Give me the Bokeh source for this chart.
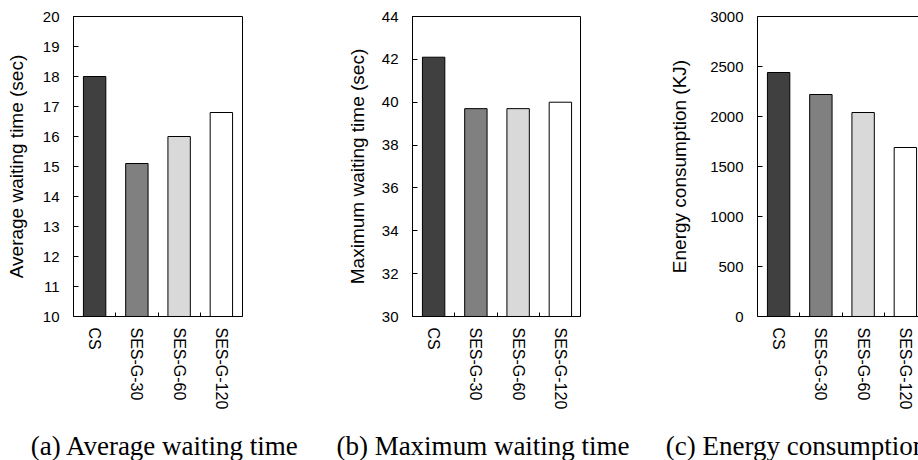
from bokeh.plotting import figure
from bokeh.models import FixedTicker, LinearAxis, Range1d
from bokeh.layouts import row, column
from bokeh.core.properties import value
from bokeh.embed import file_html
from bokeh.resources import INLINE

categories = ["CS", "SES-G-30", "SES-G-60", "SES-G-120"]
avg_wait = [18.0, 15.1, 16.0, 16.8]
max_wait = [42.1, 39.7, 39.7, 40.0]
energy = [2440, 2220, 2040, 1690]
bar_colors = ["#404040", "#808080", "#d9d9d9", "#ffffff"]

avg_ticks = list(range(10, 21, 1))
max_ticks = list(range(30, 45, 2))
energy_ticks = list(range(0, 3001, 500))

captions = ["(a) Average waiting time", "(b) Maximum waiting time", "(c) Energy consumption"]

SANS = "Liberation Sans"
SERIF = "Liberation Serif"
CAT_W = 42.25
FRAME_TOP = 16
FRAME_H = 301
MAIN_H = 412
CAP_H = 48


def panel(values, ticks, ylabel, width, bl, br, frame_w, label_standoff, clip_right=False):
    n = len(categories)
    xs = [i + 0.5 for i in range(n)]
    x_end = frame_w / CAT_W
    y0, y1 = ticks[0], ticks[-1]
    p = figure(width=width, height=MAIN_H, output_backend="svg", toolbar_location=None,
               x_range=Range1d(0, x_end), y_range=Range1d(y0, y1),
               min_border_left=bl, min_border_right=br, min_border_top=FRAME_TOP,
               min_border_bottom=MAIN_H - FRAME_TOP - FRAME_H)
    p.grid.visible = False
    p.background_fill_color = "white"
    p.border_fill_color = "white"
    xa = p.below[0]
    ya = p.left[0]
    if clip_right:
        p.outline_line_color = None
        top_ax = LinearAxis(ticker=FixedTicker(ticks=[]), major_label_text_font_size="0px",
                            axis_line_color="black", major_tick_line_color=None,
                            minor_tick_line_color=None, major_tick_out=0, major_tick_in=0,
                            major_label_standoff=0, axis_label_standoff=0)
        p.add_layout(top_ax, "above")
    else:
        p.outline_line_color = "black"
        p.outline_line_width = 1
        p.outline_line_alpha = 1

    p.vbar(x=xs, top=values, bottom=y0, width=0.53, fill_color=bar_colors,
           line_color="black", line_width=1)

    xa.ticker = FixedTicker(ticks=xs, minor_ticks=[1, 2, 3])
    xa.major_label_overrides = {x: c for x, c in zip(xs, categories)}
    xa.major_label_orientation = "vertical"
    xa.major_tick_line_color = None
    xa.major_tick_in = 0
    xa.major_tick_out = 0
    xa.minor_tick_in = 4
    xa.minor_tick_out = 0
    xa.minor_tick_line_color = "black"
    xa.axis_line_color = "black"
    xa.major_label_text_font = SANS
    xa.major_label_text_font_size = "16px"
    xa.major_label_text_color = "black"
    xa.major_label_standoff = 11

    ya.ticker = FixedTicker(ticks=ticks)
    ya.major_tick_in = 5
    ya.major_tick_out = 0
    ya.minor_tick_line_color = None
    ya.axis_line_color = "black"
    ya.major_tick_line_color = "black"
    ya.major_label_text_font = SANS
    ya.major_label_text_font_size = "15px"
    ya.major_label_text_color = "black"
    ya.major_label_standoff = 14
    ya.axis_label = ylabel
    ya.axis_label_text_font = SANS
    ya.axis_label_text_font_size = "19px"
    ya.axis_label_text_font_style = "normal"
    ya.axis_label_text_color = "black"
    ya.axis_label_standoff = label_standoff
    return p


pa = panel(avg_wait, avg_ticks, "Average waiting time (sec)", 308, 73, 66, 169, 13)
pb = panel(max_wait, max_ticks, "Maximum waiting time (sec)", 342, 104, 70, 168, 11)
pc = panel(energy, energy_ticks, "Energy consumption (KJ)", 268, 107, 0, 161, 17, clip_right=True)

# caption strip below the three panels (x in page pixels, y measured up from strip bottom)
cap = figure(width=918, height=CAP_H, output_backend="svg", toolbar_location=None,
             x_range=Range1d(0, 918), y_range=Range1d(0, CAP_H),
             x_axis_type=None, y_axis_type=None,
             min_border_left=0, min_border_right=0, min_border_top=0, min_border_bottom=0)
cap.grid.visible = False
cap.outline_line_color = None
cap_x = [164.5, 482.5, 795.5]
cap.text(x=cap_x, y=[15] * 3, text=captions, text_align="center", text_baseline="middle",
         text_font=value(SERIF), text_font_size="27px", text_color="black")

layout = column(row(pa, pb, pc, spacing=0), cap, spacing=0)
open("out.html", "w").write(file_html(layout, INLINE))
